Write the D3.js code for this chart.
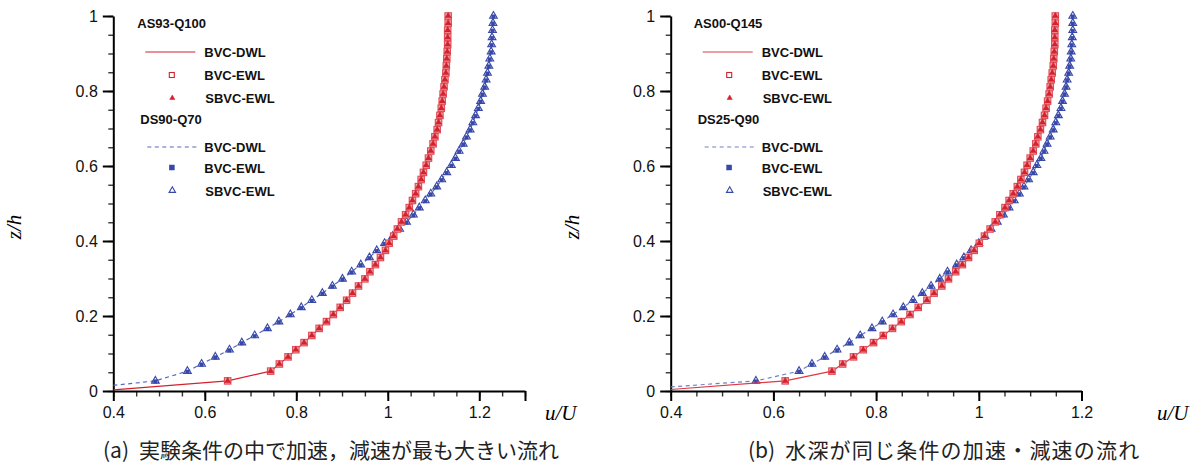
<!DOCTYPE html>
<html>
<head>
<meta charset="utf-8">
<script src="https://cdn.jsdelivr.net/npm/d3@7/dist/d3.min.js"></script>
<style>
  body{margin:0;background:#fff;}
</style>
</head>
<body>
<div id="chart"></div>
<script>
// relative height of the nodes (shared by all four profiles)
var zNodes = [0.027, 0.053, 0.072, 0.091, 0.110, 0.129, 0.148, 0.167, 0.185, 0.204,
    0.223, 0.242, 0.261, 0.280, 0.299, 0.318, 0.337, 0.356, 0.375, 0.394,
    0.413, 0.432, 0.451, 0.470, 0.489, 0.508, 0.526, 0.545, 0.564, 0.583,
    0.602, 0.621, 0.640, 0.659, 0.678, 0.697, 0.716, 0.735, 0.754, 0.773,
    0.792, 0.811, 0.830, 0.848, 0.867, 0.886, 0.905, 0.924, 0.943, 0.962,
    0.981, 1.000];

// (a) AS93-Q100
var uAS93 = [0.650, 0.744, 0.763, 0.782, 0.799, 0.817, 0.834, 0.850, 0.866, 0.881,
    0.896, 0.910, 0.923, 0.936, 0.950, 0.961, 0.973, 0.984, 0.995, 1.003,
    1.013, 1.021, 1.030, 1.039, 1.047, 1.054, 1.061, 1.067, 1.073, 1.078,
    1.084, 1.089, 1.094, 1.099, 1.103, 1.108, 1.111, 1.114, 1.117, 1.119,
    1.121, 1.123, 1.125, 1.127, 1.128, 1.129, 1.130, 1.131, 1.131, 1.131,
    1.132, 1.132];
// (a) DS90-Q70
var uDS90 = [0.492, 0.562, 0.593, 0.623, 0.654, 0.681, 0.709, 0.737, 0.762, 0.787,
    0.811, 0.834, 0.857, 0.879, 0.901, 0.921, 0.941, 0.960, 0.976, 0.993,
    1.011, 1.026, 1.041, 1.056, 1.069, 1.082, 1.094, 1.107, 1.118, 1.129,
    1.139, 1.148, 1.156, 1.165, 1.172, 1.180, 1.186, 1.192, 1.198, 1.203,
    1.207, 1.212, 1.215, 1.218, 1.221, 1.223, 1.226, 1.227, 1.228, 1.229,
    1.230, 1.231];
// (b) AS00-Q145
var uAS00 = [0.623, 0.714, 0.735, 0.756, 0.775, 0.795, 0.814, 0.832, 0.849, 0.866,
    0.882, 0.899, 0.913, 0.928, 0.941, 0.955, 0.968, 0.980, 0.991, 1.001,
    1.011, 1.022, 1.032, 1.041, 1.051, 1.059, 1.067, 1.075, 1.082, 1.089,
    1.094, 1.100, 1.106, 1.111, 1.115, 1.120, 1.124, 1.128, 1.131, 1.134,
    1.137, 1.139, 1.141, 1.143, 1.145, 1.146, 1.147, 1.148, 1.148, 1.148,
    1.149, 1.149];
// (b) DS25-Q90
var uDS25 = [0.566, 0.650, 0.675, 0.700, 0.724, 0.748, 0.769, 0.792, 0.812, 0.833,
    0.853, 0.872, 0.890, 0.907, 0.924, 0.939, 0.957, 0.971, 0.985, 1.000,
    1.012, 1.024, 1.036, 1.048, 1.059, 1.069, 1.079, 1.088, 1.097, 1.106,
    1.113, 1.121, 1.127, 1.133, 1.139, 1.145, 1.150, 1.155, 1.160, 1.163,
    1.167, 1.170, 1.172, 1.175, 1.177, 1.179, 1.180, 1.181, 1.182, 1.183,
    1.183, 1.183];

// where the DWL curves enter the plot at the left axis [u, z]
var startAS93 = [0.4, 0.003];
var startDS90 = [0.4, 0.015];
var startAS00 = [0.4, 0.004];
var startDS25 = [0.4, 0.011];

var xTicksA = [0.4, 0.6, 0.8, 1, 1.2];
var xTicksB = [0.4, 0.6, 0.8, 1, 1.2];
var yTicks = [0, 0.2, 0.4, 0.6, 0.8, 1];
var seriesNames = ["BVC-DWL", "BVC-EWL", "SBVC-EWL"];
var captionA = ["(a)", "実験条件の中で加速，減速が最も大きい流れ"];
var captionB = ["(b)", "水深が同じ条件の加速・減速の流れ"];

var width = 1197;
var height = 468;
var yTop = 16, yBot = 391;
var red = "#d3222e", blue = "#3848a8", blueLine = "#5668c0";

var svg = d3.select("#chart")
    .append("svg")
    .attr("width", width)
    .attr("height", height)
    .attr("font-family", "'Liberation Sans', Arial, sans-serif");
svg.append("rect").attr("width", width).attr("height", height).attr("fill", "#fff");

var fmt = d => String(+d.toFixed(2));

var panels = [
    {left: 113.3, right: 525, domain: [0.4, 1.3], ticks: xTicksA, cap: captionA, capX: 103, capSpacing: 0, uLabelX: 545,
     cases: [
        {name: "AS93-Q100", u: uAS93, start: startAS93, color: red, lineColor: red, dash: null, dx: 24},
        {name: "DS90-Q70", u: uDS90, start: startDS90, color: blue, lineColor: blueLine, dash: "4,3.5", dx: 27}
     ]},
    {left: 670.7, right: 1081.5, domain: [0.4, 1.2], ticks: xTicksB, cap: captionB, capX: 748, capSpacing: 1.2, uLabelX: 1157,
     cases: [
        {name: "AS00-Q145", u: uAS00, start: startAS00, color: red, lineColor: "#dd3a44", dash: null, dx: 23},
        {name: "DS25-Q90", u: uDS25, start: startDS25, color: blue, lineColor: "#6f80c8", dash: "4,3.5", dx: 27}
     ]}
];

var tri = d3.symbol().type(d3.symbolTriangle);

function styleAxis(sel, w, col) {
    sel.select(".domain").attr("stroke", "#000").attr("stroke-width", 2);
    sel.selectAll(".tick line").attr("stroke", col).attr("stroke-width", w);
    sel.selectAll(".tick text").attr("font-size", 16).attr("fill", "#111")
        .attr("font-family", "'Liberation Sans', Arial, sans-serif");
}

panels.forEach(function(p, pi) {
    var x = d3.scaleLinear().domain(p.domain).range([p.left, p.right]);
    var y = d3.scaleLinear().domain([0, 1]).range([yBot, yTop]);
    var g = svg.append("g");

    g.append("clipPath").attr("id", "clip" + pi)
        .append("rect").attr("x", p.left).attr("y", yTop - 10)
        .attr("width", p.right - p.left + 10).attr("height", yBot - yTop + 10);

    // minor ticks every 0.05
    var xMinor = d3.range(p.domain[0], p.domain[1] + 1e-6, 0.05);
    var yMinor = d3.range(0, 1 + 1e-6, 0.05);
    g.append("g").attr("transform", `translate(0,${yBot})`)
        .call(d3.axisBottom(x).tickValues(xMinor).tickSize(5.5).tickSizeOuter(0).tickFormat(""))
        .call(s => { s.select(".domain").remove(); styleAxis(s, 1.4, "#333"); });
    g.append("g").attr("transform", `translate(${p.left},0)`)
        .call(d3.axisLeft(y).tickValues(yMinor).tickSize(5).tickSizeOuter(0).tickFormat(""))
        .call(s => { s.select(".domain").remove(); styleAxis(s, 1.4, "#333"); });

    // major ticks + labels (plus an unlabeled tick at the axis end)
    var xMajor = p.ticks.indexOf(p.domain[1]) < 0 ? p.ticks.concat([p.domain[1]]) : p.ticks;
    g.append("g").attr("transform", `translate(0,${yBot})`)
        .call(d3.axisBottom(x).tickValues(xMajor).tickSize(10).tickSizeOuter(0).tickPadding(6)
            .tickFormat(d => p.ticks.indexOf(d) < 0 ? "" : fmt(d)))
        .call(s => styleAxis(s, 2, "#000"));
    g.append("g").attr("transform", `translate(${p.left},0)`)
        .call(d3.axisLeft(y).tickValues(yTicks).tickSize(10.5).tickSizeOuter(0).tickPadding(5).tickFormat(fmt))
        .call(s => styleAxis(s, 2, "#000"));

    // axis titles
    g.append("text")
        .attr("transform", `translate(${p.left - 92},227)rotate(-90)`)
        .attr("text-anchor", "middle")
        .attr("font-family", "'Liberation Serif', 'Times New Roman', serif")
        .attr("font-style", "italic").attr("font-size", 21)
        .text("z/h");
    g.append("text")
        .attr("x", p.uLabelX).attr("y", 420)
        .attr("font-family", "'Liberation Serif', 'Times New Roman', serif")
        .attr("font-style", "italic").attr("font-size", 21)
        .text("u/U");

    // caption
    var cap = g.append("text").attr("x", p.capX).attr("y", 458)
        .attr("font-family", "'Noto Sans CJK JP', sans-serif")
        .attr("font-size", 21).attr("fill", "#222");
    cap.append("tspan").text(p.cap[0]);
    cap.append("tspan").attr("dx", 10).attr("letter-spacing", p.capSpacing).text(p.cap[1]);

    var line = d3.line().x(d => x(d[0])).y(d => y(d[1]));
    var plot = g.append("g").attr("clip-path", `url(#clip${pi})`);

    // blue (decelerating) first, red on top
    p.cases.slice().reverse().forEach(function(c) {
        var pts = zNodes.map((z, i) => [c.u[i], z]);
        var isRed = c.color === red;
        plot.append("path")
            .datum([c.start].concat(pts))
            .attr("fill", "none")
            .attr("stroke", c.lineColor)
            .attr("stroke-width", 1.2)
            .attr("stroke-dasharray", c.dash)
            .attr("d", line);
        // BVC-EWL squares
        plot.append("g").selectAll("rect")
            .data(pts).enter().append("rect")
            .attr("x", d => x(d[0]) - (isRed ? 3.2 : 1.8))
            .attr("y", d => y(d[1]) - (isRed ? 3.2 : 1.2))
            .attr("width", isRed ? 6.4 : 3.6).attr("height", isRed ? 6.4 : 3.6)
            .attr("fill", isRed ? "#f2b8bc" : c.color)
            .attr("stroke", isRed ? "#e0505b" : c.color)
            .attr("stroke-width", isRed ? 1.2 : 0.4);
        // SBVC-EWL triangles
        plot.append("g").selectAll("path")
            .data(pts).enter().append("path")
            .attr("transform", d => `translate(${x(d[0])},${y(d[1])})`)
            .attr("d", tri.size(isRed ? 18 : 26)())
            .attr("fill", isRed ? c.color : "none")
            .attr("stroke", c.color).attr("stroke-width", isRed ? 0.4 : 1.1);
    });

    // legend
    var lg = g.append("g").attr("font-weight", "bold").attr("font-size", 13).attr("fill", "#111");
    p.cases.forEach(function(c, ci) {
        var oy = ci * 95.5;
        var isRed = c.color === red;
        lg.append("text").attr("x", p.left + c.dx).attr("y", 28 + oy).text(c.name);
        lg.append("line")
            .attr("x1", p.left + 32 + ci * 2).attr("x2", p.left + 82 + ci)
            .attr("y1", 52 + oy - ci * 0.5).attr("y2", 52 + oy - ci * 0.5)
            .attr("stroke", c.lineColor).attr("stroke-width", 1.2)
            .attr("stroke-dasharray", c.dash);
        lg.append("rect")
            .attr("x", p.left + 58.5 - 2.5).attr("y", 75 + oy - ci * 3 - 2.5)
            .attr("width", 5).attr("height", 5)
            .attr("fill", isRed ? "none" : c.color)
            .attr("stroke", c.color).attr("stroke-width", isRed ? 1.1 : 0.5);
        lg.append("path")
            .attr("transform", `translate(${p.left + 59},${98 + oy - ci * 3})`)
            .attr("d", tri.size(isRed ? 12 : 18)())
            .attr("fill", isRed ? c.color : "none")
            .attr("stroke", c.color).attr("stroke-width", isRed ? 0.5 : 1.1);
        seriesNames.forEach(function(nm, k) {
            lg.append("text")
                .attr("x", p.left + (k === 2 ? 92 : 91))
                .attr("y", [52, 75, 98][k] + oy - ci * (k === 0 ? 1 : 3) + 5)
                .text(nm);
        });
    });
});
</script>
</body>
</html>
